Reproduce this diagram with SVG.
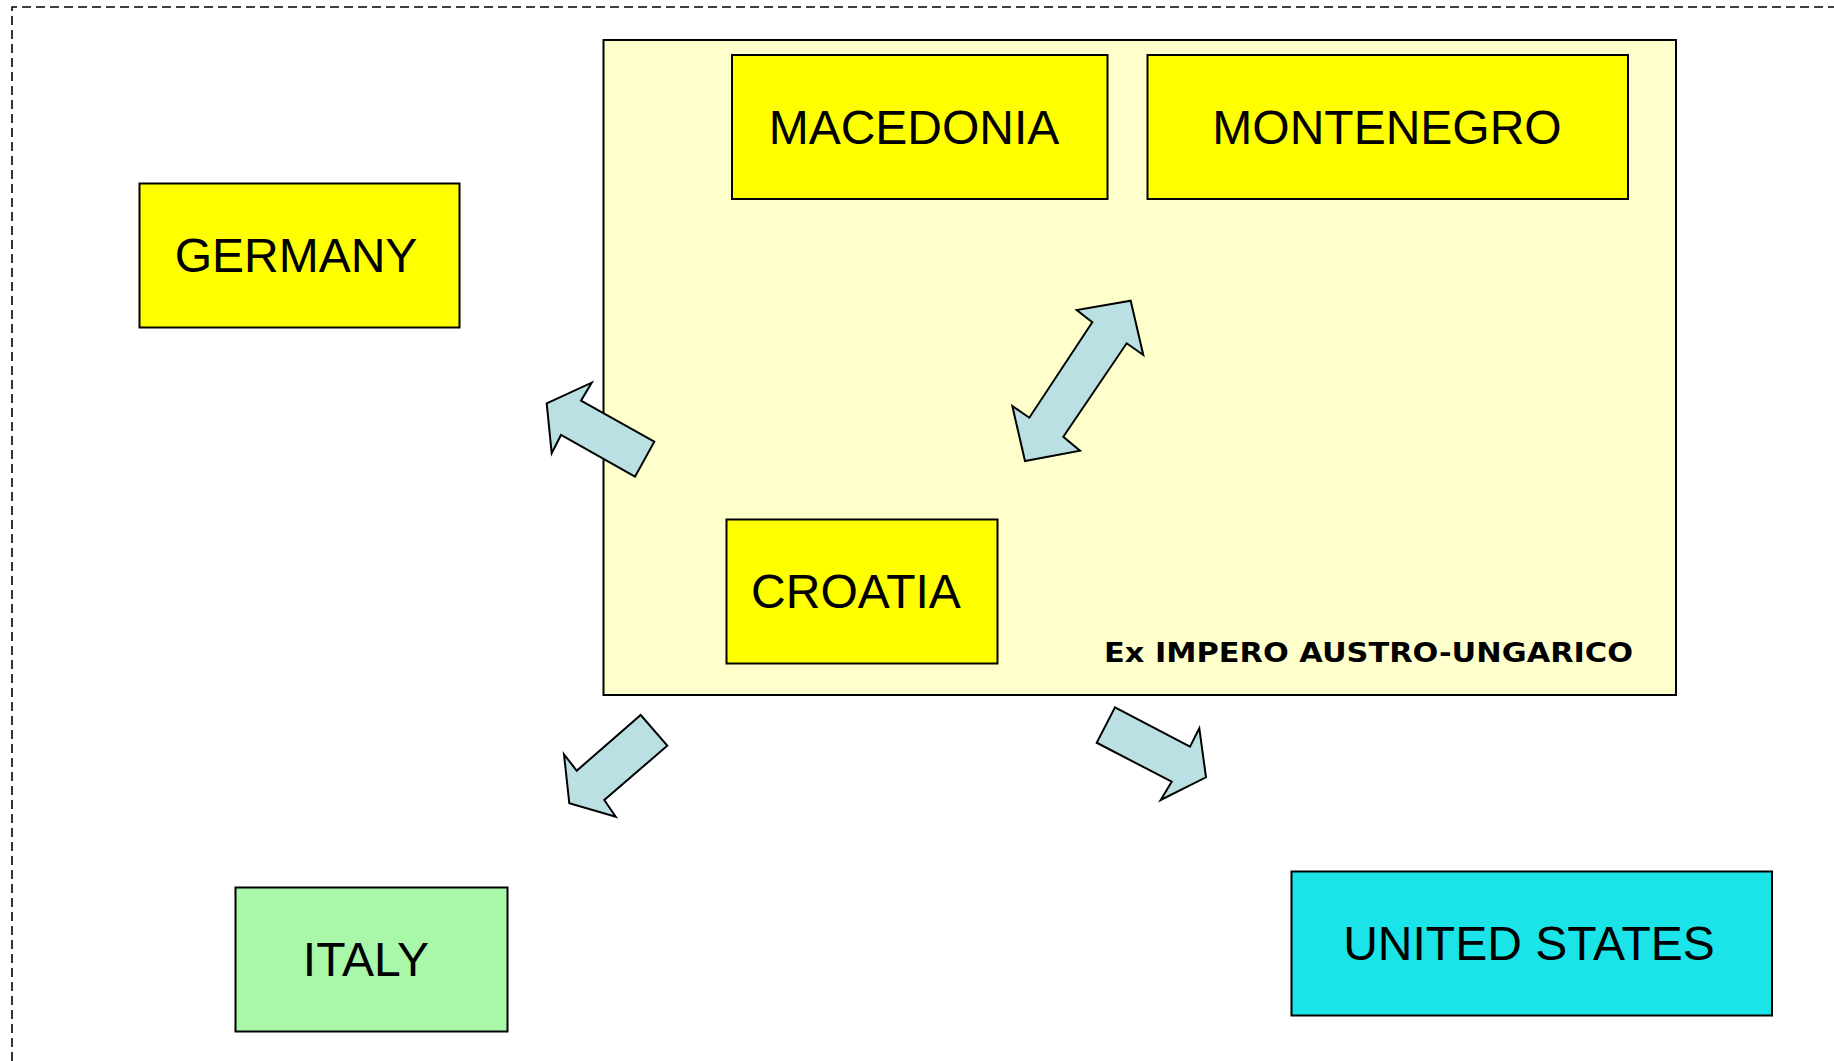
<svg xmlns="http://www.w3.org/2000/svg" width="1834" height="1061" viewBox="0 0 1834 1061">
<style>
.box{fill:#FFFF00;stroke:#000;stroke-width:2}
.lbl{font-family:"Liberation Sans",Arial,sans-serif;font-size:48px;fill:#000;text-anchor:middle}
.arr{fill:#BBE0E3;stroke:#000;stroke-width:2;stroke-linejoin:miter}
</style>
<rect width="1834" height="1061" fill="#fff"/>
<path d="M12,1061 V7 H1834" fill="none" stroke="#000" stroke-width="1.6" stroke-dasharray="9,5"/>
<g id="empire">
<rect x="603.5" y="40" width="1072.5" height="655" fill="#FFFFCC" stroke="#000" stroke-width="2"/>
<text x="1368.5" y="662" font-family="'DejaVu Sans',sans-serif" font-weight="bold" font-size="27" textLength="529" lengthAdjust="spacingAndGlyphs" text-anchor="middle">Ex IMPERO AUSTRO-UNGARICO</text>
</g>
<g id="macedonia"><rect class="box" x="732" y="55" width="375.5" height="144"/><text class="lbl" x="914" y="144">MACEDONIA</text></g>
<g id="montenegro"><rect class="box" x="1147.5" y="55" width="480.5" height="144"/><text class="lbl" x="1387" y="144">MONTENEGRO</text></g>
<g id="germany"><rect class="box" x="139.5" y="183.5" width="320" height="144"/><text class="lbl" x="296" y="272">GERMANY</text></g>
<g id="croatia"><rect class="box" x="726.5" y="519.5" width="271" height="144"/><text class="lbl" x="856" y="608">CROATIA</text></g>
<g id="italy"><rect x="235.5" y="887.5" width="272" height="144" fill="#A9F7A9" stroke="#000" stroke-width="2"/><text class="lbl" x="366" y="976">ITALY</text></g>
<g id="usa"><rect x="1291.5" y="871.5" width="480.5" height="144" fill="#1BE4E8" stroke="#000" stroke-width="2"/><text class="lbl" x="1529" y="960">UNITED STATES</text></g>
<g id="connectors">
<polygon class="arr" points="546.7,403.3 591.7,382.7 581,400.7 654.3,441.7 635,476.7 561,435 551.7,453.3"/>
<polygon class="arr" points="1130.7,300.7 1143.3,355 1126.7,343.3 1063.3,436.7 1080,450.7 1025,461 1012.3,406 1029.3,417.7 1092.3,322.3 1076.7,310"/>
<polygon class="arr" points="640.7,715 667.3,745.7 604.3,800 615.7,816.7 569.3,803.3 564,754.3 576.7,770.7"/>
<polygon class="arr" points="1115,707.3 1190,746.7 1199.3,728.3 1206,777.3 1160.7,800 1171.7,781.7 1096.7,742.7"/>
</g>
</svg>
